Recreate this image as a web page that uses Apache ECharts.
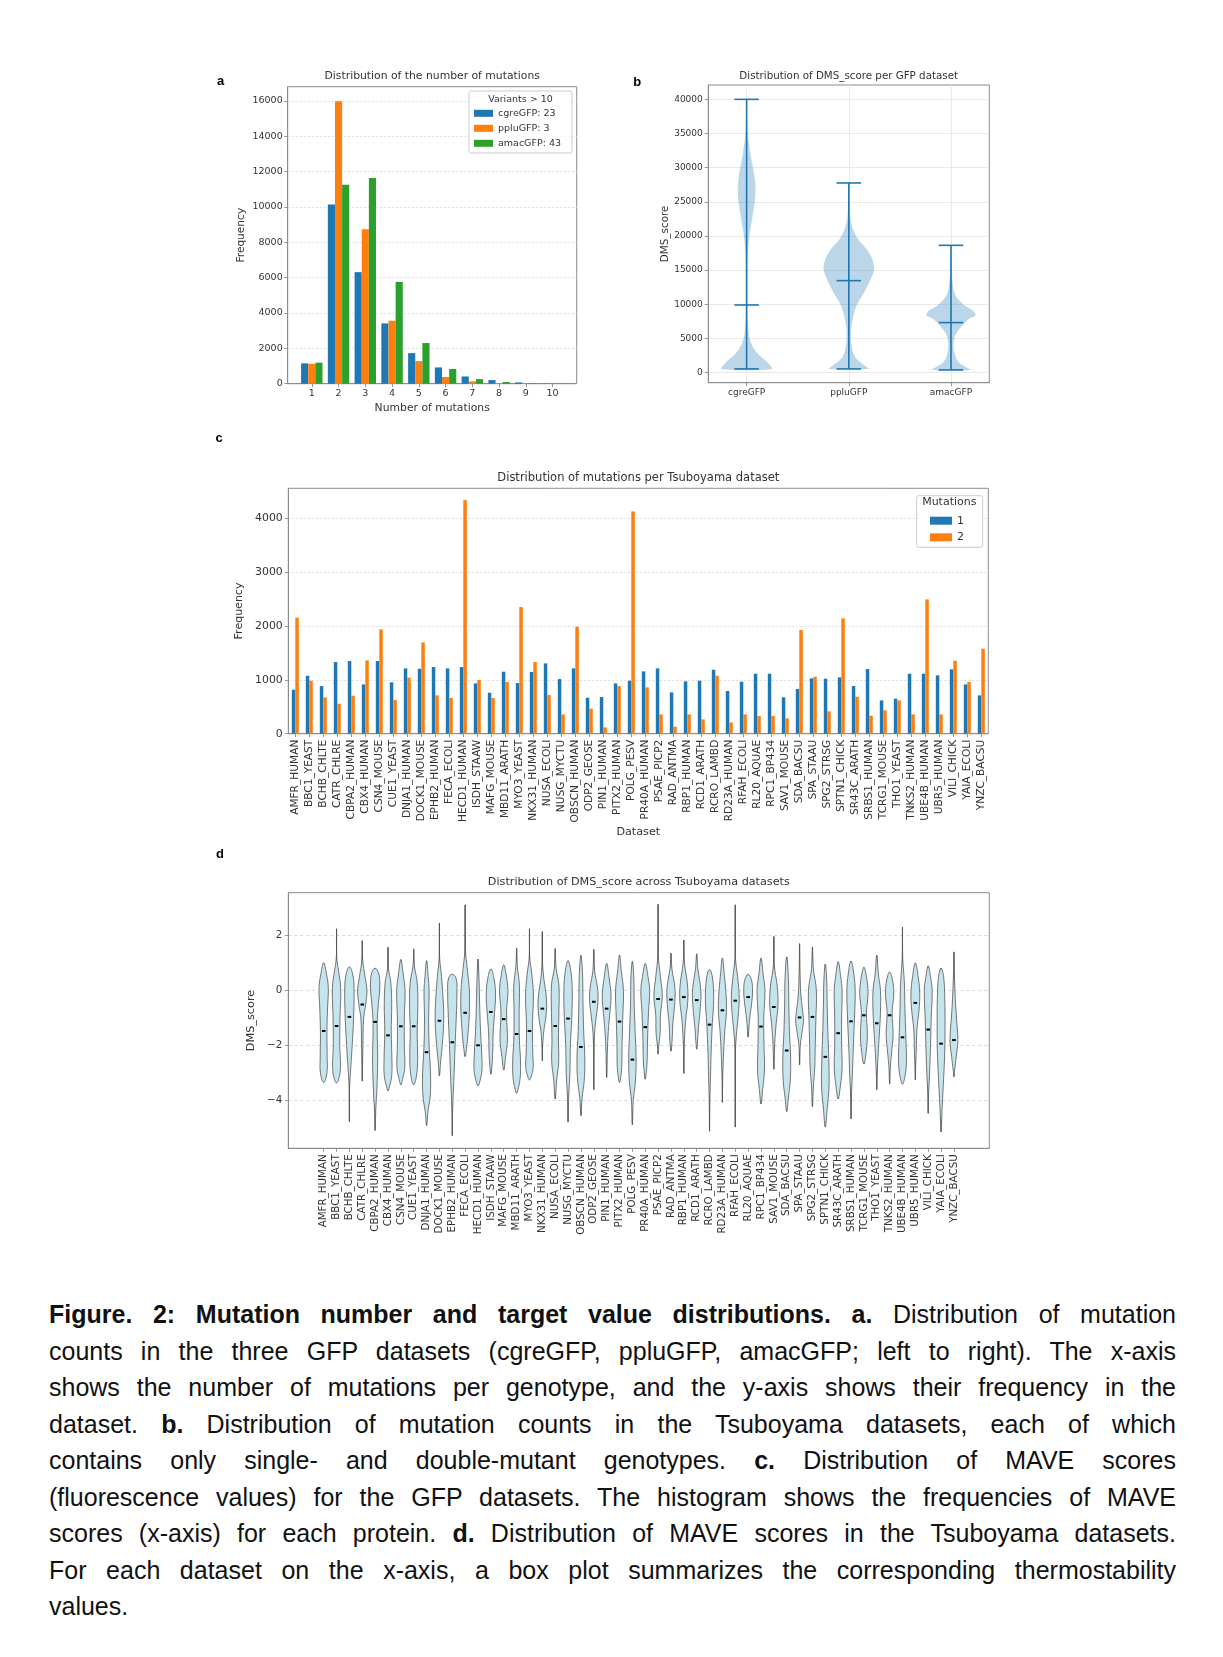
<!DOCTYPE html>
<html>
<head>
<meta charset="utf-8">
<script src="https://cdn.jsdelivr.net/npm/echarts@6/dist/echarts.min.js"></script>
<style>
html,body{margin:0;padding:0;background:#fff;}
#chart{position:absolute;left:0;top:0;width:1223px;height:1290px;}
#caption{position:absolute;left:49px;top:1296px;width:1127px;font-family:"Liberation Sans",Arial,sans-serif;font-size:25px;line-height:36.5px;color:#111;}
#caption div{text-align:justify;text-align-last:justify;white-space:nowrap;}
#caption div.last{text-align-last:left;}
</style>
</head>
<body>
<div id="chart"></div>
<div id="caption">
<div><b>Figure. 2: Mutation number and target value distributions. a.</b> Distribution of mutation</div>
<div>counts in the three GFP datasets (cgreGFP, ppluGFP, amacGFP; left to right). The x-axis</div>
<div>shows the number of mutations per genotype, and the y-axis shows their frequency in the</div>
<div>dataset. <b>b.</b> Distribution of mutation counts in the Tsuboyama datasets, each of which</div>
<div>contains only single- and double-mutant genotypes. <b>c.</b> Distribution of MAVE scores</div>
<div>(fluorescence values) for the GFP datasets. The histogram shows the frequencies of MAVE</div>
<div>scores (x-axis) for each protein. <b>d.</b> Distribution of MAVE scores in the Tsuboyama datasets.</div>
<div>For each dataset on the x-axis, a box plot summarizes the corresponding thermostability</div>
<div class="last">values.</div>
</div>
<script>
// ---------------- Panel a data ----------------
const mutCounts = [1, 2, 3, 4, 5, 6, 7, 8, 9, 10];
const cgreFreq = [1150, 10130, 6310, 3410, 1730, 920, 410, 205, 75, 15];
const ppluFreq = [1120, 15980, 8730, 3560, 1280, 380, 130, 40, 15, 3];
const amacFreq = [1190, 11260, 11630, 5760, 2300, 830, 260, 95, 30, 5];
const gfpLegendNames = ['cgreGFP: 23', 'ppluGFP: 3', 'amacGFP: 43'];
const freqTicksA = [0, 2000, 4000, 6000, 8000, 10000, 12000, 14000, 16000];

// ---------------- Panel b data ----------------
const gfpNames = ['cgreGFP', 'ppluGFP', 'amacGFP'];
const gfpMin = [540, 540, 390];
const gfpMax = [40000, 27760, 18630];
const gfpMedian = [9900, 13460, 7320];
// [DMS_score, relative density width], bottom to top
const cgreDensity = [[540,0.98],[1560,0.8],[2540,0.5],[3500,0.29],[4490,0.16],[5460,0.09],[7900,0.04],[12800,0.025],[17700,0.05],[20600,0.13],[23500,0.26],[26400,0.35],[28900,0.3],[31300,0.18],[33300,0.1],[34700,0.05],[37200,0.012],[40000,0]];
const ppluDensity = [[540,0.78],[1070,0.61],[2050,0.29],[3500,0.13],[5950,0.08],[7900,0.16],[9850,0.31],[11800,0.61],[13760,0.87],[15200,0.99],[16700,0.91],[18150,0.68],[19600,0.35],[21070,0.16],[22540,0.064],[24980,0.028],[27760,0]];
const amacDensity = [[390,0.76],[830,0.58],[1560,0.29],[2540,0.16],[4000,0.1],[5460,0.17],[6680,0.39],[7900,0.72],[8390,0.97],[9120,0.84],[9850,0.52],[10830,0.26],[11800,0.13],[13760,0.05],[16200,0.024],[18630,0]];
const gfpTicks = [0, 5000, 10000, 15000, 20000, 25000, 30000, 35000, 40000];

// ---------------- Panel c data ----------------
const tsuNames = ['AMFR_HUMAN','BBC1_YEAST','BCHB_CHLTE','CATR_CHLRE','CBPA2_HUMAN','CBX4_HUMAN','CSN4_MOUSE','CUE1_YEAST','DNJA1_HUMAN','DOCK1_MOUSE','EPHB2_HUMAN','FECA_ECOLI','HECD1_HUMAN','ISDH_STAAW','MAFG_MOUSE','MBD11_ARATH','MYO3_YEAST','NKX31_HUMAN','NUSA_ECOLI','NUSG_MYCTU','OBSCN_HUMAN','ODP2_GEOSE','PIN1_HUMAN','PITX2_HUMAN','POLG_PESV','PR40A_HUMAN','PSAE_PICP2','RAD_ANTMA','RBP1_HUMAN','RCD1_ARATH','RCRO_LAMBD','RD23A_HUMAN','RFAH_ECOLI','RL20_AQUAE','RPC1_BP434','SAV1_MOUSE','SDA_BACSU','SPA_STAAU','SPG2_STRSG','SPTN1_CHICK','SR43C_ARATH','SRBS1_HUMAN','TCRG1_MOUSE','THO1_YEAST','TNKS2_HUMAN','UBE4B_HUMAN','UBR5_HUMAN','VILI_CHICK','YAIA_ECOLI','YNZC_BACSU'];
const tsuSingle = [817,1077,885,1331,1350,916,1350,954,1214,1207,1238,1214,1238,935,762,1152,941,1146,1307,1015,1214,669,681,935,985,1158,1214,768,972,985,1189,793,966,1115,1115,675,830,1028,1022,1046,885,1201,619,650,1115,1115,1084,1195,916,712];
const tsuDouble = [2155,985,675,557,706,1362,1938,625,1040,1697,712,663,4341,997,663,960,2353,1331,718,359,1988,464,118,885,4130,861,359,130,359,266,1077,211,359,328,328,285,1926,1059,415,2142,687,334,433,619,359,2495,359,1356,960,1579];
const freqTicksC = [0, 1000, 2000, 3000, 4000];

// ---------------- Panel d data ----------------
const dmsMax = [1.0,2.24,0.86,1.81,0.81,1.57,1.12,1.51,1.08,2.45,0.59,3.11,1.14,0.78,0.93,1.54,2.24,2.14,1.52,1.08,1.27,1.49,0.98,1.28,1.05,0.98,3.13,1.35,1.83,1.33,0.76,1.18,3.11,0.58,1.17,1.96,1.22,1.7,1.58,0.96,1.04,1.07,0.84,1.28,0.67,2.3,1.0,0.89,0.81,1.4];
const dmsMin = [-3.34,-3.36,-4.76,-3.29,-5.08,-3.65,-3.42,-3.42,-4.9,-3.1,-5.27,-2.4,-3.46,-3.04,-2.89,-3.73,-3.25,-2.55,-3.94,-4.78,-4.54,-3.6,-3.16,-3.34,-4.88,-3.22,-2.31,-2.2,-3.01,-2.13,-5.11,-4.06,-4.96,-1.69,-4.12,-2.86,-4.39,-2.7,-4.22,-4.96,-3.94,-4.66,-2.67,-3.6,-3.4,-3.4,-3.24,-4.46,-5.14,-3.13];
const dmsMedian = [-1.47,-1.29,-0.96,-0.51,-1.14,-1.63,-1.30,-1.30,-2.24,-1.10,-1.88,-0.81,-1.99,-0.78,-1.04,-1.58,-1.47,-0.66,-1.29,-1.02,-2.05,-0.41,-0.66,-1.13,-2.51,-1.33,-0.31,-0.33,-0.24,-0.35,-1.24,-0.72,-0.37,-0.24,-1.31,-0.60,-2.18,-0.98,-0.96,-2.41,-1.55,-1.12,-0.90,-1.19,-0.90,-1.70,-0.45,-1.42,-1.93,-1.80];
// interior body outline knots [DMS_score, relative width], top to bottom
const dmsShape = [
 [[0.6,0.6],[0.1,1],[-0.6,0.85],[-1.5,0.7],[-2.4,0.75],[-3.0,0.7]],
 [[1.2,0.05],[0.7,0.45],[0.1,0.9],[-1,0.75],[-2,0.7],[-2.8,0.85],[-3.2,0.5]],
 [[0.6,0.7],[0.1,1],[-1,0.9],[-2,0.6],[-2.8,0.3],[-3.5,0.05]],
 [[1.1,0.1],[0.5,0.6],[0,1],[-0.5,0.75],[-1,0.3],[-2,0.15],[-2.8,0.05]],
 [[0.6,0.8],[0.1,1],[-0.5,0.7],[-1.2,0.45],[-2.5,0.55],[-3.5,0.4],[-4.3,0.15]],
 [[0.8,0.1],[0.3,0.6],[-0.5,0.8],[-1.5,0.7],[-2.5,0.85],[-3.1,0.8],[-3.5,0.3]],
 [[0.6,0.5],[0,0.9],[-1,0.75],[-2,0.75],[-2.8,0.85],[-3.2,0.4]],
 [[0.9,0.15],[0.3,0.75],[-0.5,0.9],[-1.5,0.75],[-2.5,0.85],[-3.1,0.6]],
 [[0.5,0.35],[0,0.55],[-1,0.45],[-2,0.55],[-3,0.85],[-3.8,0.8],[-4.4,0.3]],
 [[1.2,0.05],[0.5,0.45],[-0.5,0.85],[-1.2,0.9],[-2,0.6],[-2.6,0.25]],
 [[0.45,0.8],[0,1],[-1,0.85],[-2,0.6],[-3,0.4],[-4,0.15],[-4.6,0.05]],
 [[1.5,0.05],[0.8,0.45],[0,0.9],[-0.8,0.9],[-1.6,0.6],[-2.1,0.3]],
 [[0.5,0.2],[-0.5,0.35],[-1.5,0.55],[-2.3,0.8],[-2.9,0.85],[-3.3,0.4]],
 [[0.5,0.6],[-0.1,1],[-0.8,0.8],[-1.5,0.5],[-2.2,0.4],[-2.8,0.2]],
 [[0.6,0.5],[0,0.9],[-0.8,0.6],[-1.8,0.8],[-2.4,0.4]],
 [[0.9,0.15],[0.2,0.6],[-0.8,0.55],[-1.8,0.6],[-2.6,0.85],[-3.2,0.75],[-3.6,0.3]],
 [[1.2,0.05],[0.6,0.5],[-0.2,0.85],[-1.2,0.65],[-2.2,0.7],[-2.8,0.8],[-3.1,0.4]],
 [[1.0,0.05],[0.4,0.35],[-0.3,0.9],[-0.9,0.8],[-1.5,0.3],[-2.0,0.08]],
 [[0.8,0.2],[0.2,0.8],[-0.8,0.8],[-1.8,0.7],[-2.6,0.75],[-3.2,0.35]],
 [[0.7,0.6],[0,0.9],[-1,0.8],[-2,0.5],[-3,0.4],[-3.8,0.15]],
 [[0.6,0.35],[-0.5,0.45],[-1.5,0.6],[-2.5,0.85],[-3.3,0.7],[-3.9,0.25]],
 [[0.7,0.2],[0.1,0.8],[-0.4,0.9],[-1,0.5],[-1.6,0.15],[-2.5,0.05]],
 [[0.5,0.5],[-0.2,0.95],[-0.8,0.7],[-1.5,0.35],[-2.2,0.15]],
 [[0.7,0.4],[0,0.85],[-1,0.7],[-2,0.55],[-2.7,0.5],[-3.1,0.3]],
 [[0.5,0.3],[-0.5,0.4],[-1.5,0.6],[-2.5,0.8],[-3.3,0.65],[-4,0.2]],
 [[0.5,0.6],[0,0.95],[-0.8,0.7],[-1.8,0.5],[-2.6,0.4],[-3.0,0.2]],
 [[1.3,0.05],[0.5,0.5],[-0.2,0.9],[-0.9,0.5],[-1.5,0.45],[-2,0.15]],
 [[0.8,0.2],[0.1,0.85],[-0.5,0.8],[-1.2,0.4],[-1.8,0.25]],
 [[1.0,0.15],[0.2,0.8],[-0.4,0.85],[-1.0,0.45],[-1.6,0.2],[-2.3,0.05]],
 [[0.8,0.25],[0,0.9],[-0.6,0.8],[-1.3,0.4],[-1.8,0.2]],
 [[0.5,0.6],[-0.3,0.9],[-1.2,0.6],[-2.2,0.35],[-3.2,0.2],[-4,0.07]],
 [[0.6,0.4],[-0.2,0.8],[-0.8,0.85],[-1.5,0.5],[-2.5,0.2],[-3.3,0.05]],
 [[1.2,0.05],[0.5,0.5],[-0.2,0.85],[-0.8,0.7],[-1.5,0.3],[-2.2,0.05]],
 [[0.4,0.7],[0,0.95],[-0.4,0.8],[-1.0,0.35],[-1.4,0.15]],
 [[0.6,0.45],[0,0.85],[-1,0.6],[-2,0.65],[-2.9,0.75],[-3.6,0.35]],
 [[0.9,0.1],[0.2,0.7],[-0.5,0.9],[-1.2,0.5],[-1.9,0.2]],
 [[0.5,0.35],[-0.5,0.45],[-1.5,0.6],[-2.5,0.85],[-3.3,0.75],[-3.9,0.35]],
 [[0.6,0.1],[-0.2,0.3],[-0.8,0.7],[-1.1,0.85],[-1.5,0.55],[-2.0,0.15]],
 [[0.8,0.2],[0,0.85],[-1,0.75],[-2,0.6],[-2.8,0.5],[-3.5,0.2]],
 [[0.4,0.3],[-0.5,0.4],[-1.5,0.55],[-2.5,0.75],[-3.5,0.8],[-4.3,0.4]],
 [[0.5,0.55],[0,0.85],[-1,0.75],[-2,0.75],[-2.8,0.85],[-3.5,0.45]],
 [[0.6,0.6],[0,0.9],[-1,0.75],[-2,0.5],[-3,0.3],[-3.8,0.1]],
 [[0.5,0.55],[-0.1,0.9],[-0.8,0.55],[-1.6,0.75],[-2.2,0.5]],
 [[0.6,0.35],[0,0.8],[-0.8,0.8],[-1.6,0.55],[-2.3,0.3],[-3,0.1]],
 [[0.4,0.6],[-0.1,0.9],[-0.8,0.55],[-1.6,0.75],[-2.3,0.4],[-2.8,0.15]],
 [[1.2,0.05],[0.3,0.4],[-0.8,0.55],[-1.8,0.75],[-2.6,0.85],[-3.1,0.55]],
 [[0.5,0.6],[-0.1,0.95],[-0.7,0.8],[-1.4,0.35],[-2.2,0.2],[-2.7,0.08]],
 [[0.5,0.5],[0,0.85],[-1,0.65],[-2,0.5],[-3,0.3],[-3.8,0.08]],
 [[0.5,0.55],[-0.3,0.8],[-1.2,0.85],[-2.2,0.8],[-3.2,0.55],[-4.2,0.25]],
 [[0.6,0.1],[-0.3,0.3],[-1.0,0.55],[-1.8,0.85],[-2.4,0.5],[-2.9,0.15]]
];
const dmsTicks = [-4, -2, 0, 2];

// ---------------- styles ----------------
const FONT = 'DejaVu Sans';
const C_BLUE = '#1f77b4', C_ORANGE = '#ff7f0e', C_GREEN = '#2ca02c';
const FRAME = '#8c8c8c', TXT = '#333333';
const GFP_HALF = 0.25, GFP_CAP = 0.12;
const DMS_HALF = 0.36, DMS_MED = 0.14;

const gfpDensity = [cgreDensity, ppluDensity, amacDensity];
const dmsPositions = tsuNames.map((n, i) => i + 1);
const minusFmt = v => (v < 0 ? '\u2212' + (-v) : String(v));
const plainFmt = v => String(v);

function renderGfpViolin(params, api) {
  const i = params.dataIndex;
  const pos = api.value(0), lo = api.value(1), hi = api.value(2), med = api.value(3);
  const knots = gfpDensity[i];
  const right = knots.map(k => api.coord([pos + k[1] * GFP_HALF, k[0]]));
  const left = knots.filter(k => k[1] > 0).map(k => api.coord([pos - k[1] * GFP_HALF, k[0]])).reverse();
  const pts = right.concat(left);
  const seg = (v) => {
    const a = api.coord([pos - GFP_CAP, v]), b = api.coord([pos + GFP_CAP, v]);
    return {type: 'line', shape: {x1: a[0], y1: a[1], x2: b[0], y2: b[1]}, style: {stroke: C_BLUE, lineWidth: 1.6}};
  };
  const t = api.coord([pos, hi]), b = api.coord([pos, lo]);
  return {type: 'group', children: [
    {type: 'polygon', shape: {points: pts, smooth: 0.3}, style: {fill: 'rgba(31,119,180,0.3)', stroke: 'none'}},
    {type: 'line', shape: {x1: t[0], y1: t[1], x2: b[0], y2: b[1]}, style: {stroke: C_BLUE, lineWidth: 1.6}},
    seg(lo), seg(hi), seg(med)
  ]};
}

function renderDmsViolin(params, api) {
  const i = params.dataIndex;
  const pos = api.value(0), lo = api.value(1), hi = api.value(2), med = api.value(3);
  const knots = dmsShape[i];
  const top = api.coord([pos, hi]), bot = api.coord([pos, lo]);
  const pts = [top];
  knots.forEach(k => pts.push(api.coord([pos + k[1] * DMS_HALF, k[0]])));
  pts.push(bot);
  for (let j = knots.length - 1; j >= 0; j--) pts.push(api.coord([pos - knots[j][1] * DMS_HALF, knots[j][0]]));
  const mL = api.coord([pos - DMS_MED, med]), mR = api.coord([pos + DMS_MED, med]);
  return {type: 'group', children: [
    {type: 'line', shape: {x1: top[0], y1: top[1], x2: bot[0], y2: bot[1]}, style: {stroke: '#3a3a3a', lineWidth: 0.9}},
    {type: 'polygon', shape: {points: pts, smooth: 0.4}, style: {fill: 'rgb(198,228,237)', stroke: '#555555', lineWidth: 0.8}},
    {type: 'line', shape: {x1: mL[0], y1: mL[1], x2: mR[0], y2: mR[1]}, style: {stroke: '#000000', lineWidth: 2}}
  ]};
}

function frameGrid(left, top, width, height) {
  return {left, top, width, height, show: true, borderColor: FRAME, borderWidth: 1,
          backgroundColor: 'rgba(0,0,0,0)', containLabel: false, outerBoundsMode: 'none'};
}
const axisLineS = {show: true, onZero: false, lineStyle: {color: FRAME, width: 1}};
function tickS(custom) { return {show: true, length: 3.5, lineStyle: {color: FRAME, width: 0.9}, customValues: custom}; }
function labelS(custom, size, margin, extra) {
  return Object.assign({color: TXT, fontFamily: FONT, fontSize: size, margin: margin, customValues: custom, formatter: plainFmt}, extra || {});
}
function nameS(size) { return {color: TXT, fontFamily: FONT, fontSize: size}; }

function titleAt(text, cx, cy, size, extra) {
  return Object.assign({text: text, left: cx, top: cy - size * 0.62, textAlign: 'center', padding: 0, z: 20,
    textStyle: Object.assign({fontSize: size, fontWeight: 'normal', color: TXT, fontFamily: FONT}, extra || {})});
}
const letterStyle = {fontFamily: 'Liberation Sans', fontWeight: 'bold', color: '#000'};

const option = {
  animation: false,
  backgroundColor: '#ffffff',
  textStyle: {fontFamily: FONT},
  title: [
    titleAt('Distribution of the number of mutations', 432.2, 77.3, 10.8),
    titleAt('Distribution of DMS_score per GFP dataset', 848.7, 77.3, 10.3),
    titleAt('Distribution of mutations per Tsuboyama dataset', 638.3, 479.3, 11.5),
    titleAt('Distribution of DMS_score across Tsuboyama datasets', 638.8, 884, 11.2),
    titleAt('Variants > 10', 520.5, 100, 9.5),
    titleAt('Mutations', 949.3, 503.3, 11),
    titleAt('a', 220.7, 82.5, 13, letterStyle),
    titleAt('b', 637.3, 83.5, 13, letterStyle),
    titleAt('c', 219, 439.5, 13, letterStyle),
    titleAt('d', 220, 856, 13, letterStyle)
  ],
  legend: [
    {data: gfpLegendNames, orient: 'vertical', left: 474, top: 107.3, padding: 0, itemWidth: 19, itemHeight: 7,
     itemGap: 3, icon: 'rect', selectedMode: false, z: 20, itemStyle: {borderWidth: 0},
     textStyle: {fontSize: 9.5, lineHeight: 12, color: TXT, fontFamily: FONT}},
    {data: ['1', '2'], orient: 'vertical', left: 930, top: 513.7, padding: 0, itemWidth: 22, itemHeight: 8,
     itemGap: 2.6, icon: 'rect', selectedMode: false, z: 20, itemStyle: {borderWidth: 0},
     textStyle: {fontSize: 11, lineHeight: 14, color: TXT, fontFamily: FONT}}
  ],
  graphic: {elements: [
    {type: 'rect', z: 15, shape: {x: 469, y: 91, width: 103, height: 62, r: 2},
     style: {fill: 'rgba(255,255,255,0.85)', stroke: '#cccccc', lineWidth: 1}},
    {type: 'rect', z: 15, shape: {x: 916.7, y: 495.7, width: 66, height: 51.6, r: 2},
     style: {fill: 'rgba(255,255,255,0.85)', stroke: '#cccccc', lineWidth: 1}}
  ]},
  grid: [
    frameGrid(287.7, 86.7, 289, 297),
    frameGrid(708.3, 85, 281, 297.7),
    frameGrid(288.3, 488.3, 700, 245.4),
    frameGrid(288.3, 892.7, 701, 255.6)
  ],
  xAxis: [
    {type: 'value', gridIndex: 0, min: 0.1, max: 10.9, axisLine: axisLineS, axisTick: tickS(mutCounts),
     axisLabel: labelS(mutCounts, 9.5, 5), splitLine: {show: false},
     name: 'Number of mutations', nameLocation: 'middle', nameGap: 19, nameTextStyle: nameS(10.8)},
    {type: 'value', gridIndex: 1, min: 0.625, max: 3.375, axisLine: axisLineS, axisTick: tickS([1, 2, 3]),
     axisLabel: labelS([1, 2, 3], 9, 5, {formatter: v => gfpNames[Math.round(v) - 1]}),
     splitLine: {show: true, lineStyle: {color: '#e4e4e4', width: 0.8}}},
    {type: 'category', gridIndex: 2, data: tsuNames, axisLine: axisLineS,
     axisTick: {show: true, length: 3.5, alignWithLabel: true, interval: 0, lineStyle: {color: FRAME, width: 0.9}},
     axisLabel: {color: TXT, fontFamily: FONT, fontSize: 10.6, margin: 6, rotate: 90, interval: 0},
     splitLine: {show: false}, name: 'Dataset', nameLocation: 'middle', nameGap: 90, nameTextStyle: nameS(11.2)},
    {type: 'value', gridIndex: 3, min: -1.75, max: 52.75, axisLine: axisLineS, axisTick: tickS(dmsPositions),
     axisLabel: labelS(dmsPositions, 10.3, 6, {rotate: 90, formatter: v => tsuNames[Math.round(v) - 1]}),
     splitLine: {show: false}}
  ],
  yAxis: [
    {type: 'value', gridIndex: 0, min: 0, max: 16800, axisLine: axisLineS, axisTick: tickS(freqTicksA),
     axisLabel: labelS(freqTicksA, 9.5, 5),
     splitLine: {show: true, lineStyle: {color: '#d6d6d6', width: 0.8, type: [2, 2]}},
     name: 'Frequency', nameLocation: 'middle', nameGap: 41, nameTextStyle: nameS(10.6)},
    {type: 'value', gridIndex: 1, min: -1480, max: 42100, axisLine: axisLineS, axisTick: tickS(gfpTicks),
     axisLabel: labelS(gfpTicks, 9, 5.5),
     splitLine: {show: true, lineStyle: {color: '#e4e4e4', width: 0.8}},
     name: 'DMS_score', nameLocation: 'middle', nameGap: 34, nameTextStyle: nameS(10.4)},
    {type: 'value', gridIndex: 2, min: 0, max: 4560, axisLine: axisLineS, axisTick: tickS(freqTicksC),
     axisLabel: labelS(freqTicksC, 10.9, 5.5),
     splitLine: {show: true, lineStyle: {color: '#d6d6d6', width: 0.8, type: [2, 2]}},
     name: 'Frequency', nameLocation: 'middle', nameGap: 37, nameTextStyle: nameS(11)},
    {type: 'value', gridIndex: 3, min: -5.73, max: 3.55, axisLine: axisLineS, axisTick: tickS(dmsTicks),
     axisLabel: labelS(dmsTicks, 10.3, 6, {formatter: minusFmt}),
     splitLine: {show: true, lineStyle: {color: '#cfcfcf', width: 0.8, type: [3, 3]}},
     name: 'DMS_score', nameLocation: 'middle', nameGap: 22, nameTextStyle: nameS(11.3)}
  ],
  series: [
    {type: 'bar', name: gfpLegendNames[0], xAxisIndex: 0, yAxisIndex: 0, barGap: '0%', barCategoryGap: '20%',
     itemStyle: {color: C_BLUE}, data: mutCounts.map((m, i) => [m, cgreFreq[i]])},
    {type: 'bar', name: gfpLegendNames[1], xAxisIndex: 0, yAxisIndex: 0, barGap: '0%', barCategoryGap: '20%',
     itemStyle: {color: C_ORANGE}, data: mutCounts.map((m, i) => [m, ppluFreq[i]])},
    {type: 'bar', name: gfpLegendNames[2], xAxisIndex: 0, yAxisIndex: 0, barGap: '0%', barCategoryGap: '20%',
     itemStyle: {color: C_GREEN}, data: mutCounts.map((m, i) => [m, amacFreq[i]])},
    {type: 'custom', name: 'gfpViolin', xAxisIndex: 1, yAxisIndex: 1, renderItem: renderGfpViolin, clip: false,
     encode: {x: 0, y: [1, 2, 3]}, data: gfpNames.map((n, i) => [i + 1, gfpMin[i], gfpMax[i], gfpMedian[i]])},
    {type: 'bar', name: '1', xAxisIndex: 2, yAxisIndex: 2, barGap: '0%', barCategoryGap: '50%',
     itemStyle: {color: C_BLUE}, data: tsuSingle},
    {type: 'bar', name: '2', xAxisIndex: 2, yAxisIndex: 2, barGap: '0%', barCategoryGap: '50%',
     itemStyle: {color: C_ORANGE}, data: tsuDouble},
    {type: 'custom', name: 'dmsViolin', xAxisIndex: 3, yAxisIndex: 3, renderItem: renderDmsViolin, clip: false,
     encode: {x: 0, y: [1, 2, 3]}, data: dmsPositions.map((p, i) => [p, dmsMin[i], dmsMax[i], dmsMedian[i]])}
  ]
};

const chart = echarts.init(document.getElementById('chart'), null, {renderer: 'canvas'});
chart.setOption(option);
</script>
</body>
</html>
